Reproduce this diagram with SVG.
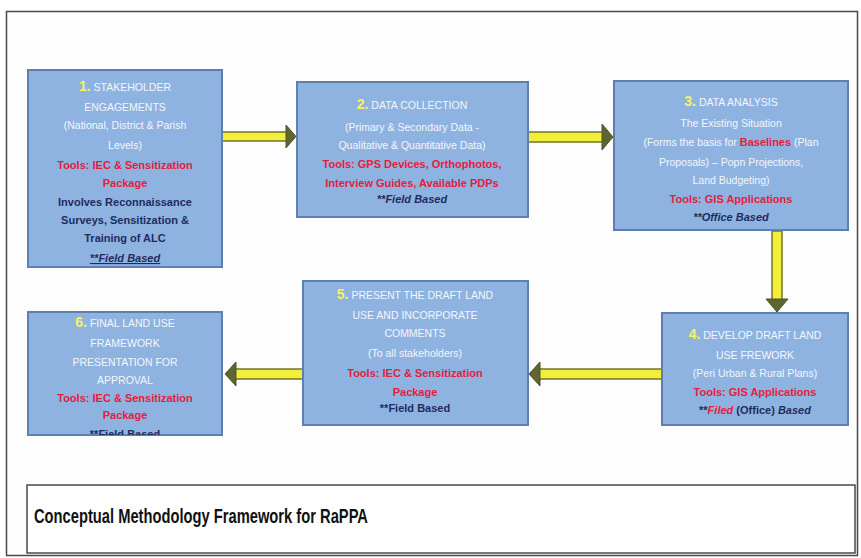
<svg xmlns="http://www.w3.org/2000/svg" width="861" height="558" viewBox="0 0 861 558">
<style>
  .box{fill:#8FB3E0;stroke:#5F7FAF;stroke-width:2}
  text{font-family:"Liberation Sans",Arial,sans-serif;text-anchor:middle}
  .w{fill:#F3F6FB;font-size:10.5px}
  .n{fill:#F6F35A;font-size:14px;font-weight:bold}
  .r{fill:#E3203C;font-size:11px;font-weight:bold}
  .k{fill:#1F2B5E;font-size:11px;font-weight:bold}
  .i{font-style:italic}
  .shaft{fill:#F2EE3A;stroke:#6E7628;stroke-width:1.5}
  .head{fill:#5F6530;stroke:#4E5426;stroke-width:1}
</style>
<defs>
  <clipPath id="c6"><rect x="28" y="312" width="194" height="123"/></clipPath>
</defs>
<rect x="0" y="0" width="861" height="558" fill="#FFFFFF"/>
<rect x="6.5" y="11.5" width="851" height="544" fill="#FDFDFD" stroke="#4A4A4A" stroke-width="1.5"/>

<g id="connectors">
  <g id="a12"><rect class="shaft" x="221" y="132" width="66" height="9"/><polygon class="head" points="286,125 296,136.5 286,148"/></g>
  <g id="a23"><rect class="shaft" x="528" y="132" width="75" height="10"/><polygon class="head" points="602,124 613,137 602,150"/></g>
  <g id="a34"><rect class="shaft" x="772" y="231" width="10" height="69"/><polygon class="head" points="766,299 788,299 777,312"/></g>
  <g id="a45"><rect class="shaft" x="539" y="369" width="123" height="10"/><polygon class="head" points="540,362 529,374 540,386"/></g>
  <g id="a56"><rect class="shaft" x="235" y="369" width="68" height="10"/><polygon class="head" points="236,362 225,374 236,386"/></g>
</g>

<g id="n1">
  <rect class="box" x="28" y="70" width="194" height="197"/>
  <text x="125" y="91"><tspan class="n">1.</tspan><tspan class="w"> STAKEHOLDER</tspan></text>
  <text class="w" x="125" y="111">ENGAGEMENTS</text>
  <text class="w" x="125" y="129">(National, District &amp; Parish</text>
  <text class="w" x="125" y="149">Levels)</text>
  <text class="r" x="125" y="169">Tools: IEC &amp; Sensitization</text>
  <text class="r" x="125" y="187">Package</text>
  <text class="k" x="125" y="206">Involves Reconnaissance</text>
  <text class="k" x="125" y="224">Surveys, Sensitization &amp;</text>
  <text class="k" x="125" y="242">Training of ALC</text>
  <text class="k i" x="125" y="262" text-decoration="underline">**Field Based</text>
</g>

<g id="n2">
  <rect class="box" x="297" y="82" width="231" height="135"/>
  <text x="412" y="109"><tspan class="n">2.</tspan><tspan class="w"> DATA COLLECTION</tspan></text>
  <text class="w" x="412" y="131">(Primary &amp; Secondary Data -</text>
  <text class="w" x="412" y="149">Qualitative &amp; Quantitative Data)</text>
  <text class="r" x="412" y="168">Tools: GPS Devices, Orthophotos,</text>
  <text class="r" x="412" y="187">Interview Guides, Available PDPs</text>
  <text class="k i" x="412" y="203">**Field Based</text>
</g>

<g id="n3">
  <rect class="box" x="614" y="81" width="234" height="149"/>
  <text x="731" y="106"><tspan class="n">3.</tspan><tspan class="w"> DATA ANALYSIS</tspan></text>
  <text class="w" x="731" y="127">The Existing Situation</text>
  <text class="w" x="731" y="146">(Forms the basis for <tspan class="r">Baselines</tspan> (Plan</text>
  <text class="w" x="731" y="166">Proposals) – Popn Projections,</text>
  <text class="w" x="731" y="184">Land Budgeting)</text>
  <text class="r" x="731" y="203">Tools: GIS Applications</text>
  <text class="k i" x="731" y="221">**Office Based</text>
</g>

<g id="n4">
  <rect class="box" x="662" y="313" width="186" height="112"/>
  <text x="755" y="339"><tspan class="n">4.</tspan><tspan class="w"> DEVELOP DRAFT LAND</tspan></text>
  <text class="w" x="755" y="359">USE FREWORK</text>
  <text class="w" x="755" y="377">(Peri Urban &amp; Rural Plans)</text>
  <text class="r" x="755" y="396">Tools: GIS Applications</text>
  <text class="k" x="755" y="414">**<tspan class="r i">Filed</tspan> (Office) <tspan class="i">Based</tspan></text>
</g>

<g id="n5">
  <rect class="box" x="303" y="281" width="225" height="144"/>
  <text x="415" y="299"><tspan class="n">5.</tspan><tspan class="w"> PRESENT THE DRAFT LAND</tspan></text>
  <text class="w" x="415" y="319">USE AND INCORPORATE</text>
  <text class="w" x="415" y="337">COMMENTS</text>
  <text class="w" x="415" y="357">(To all stakeholders)</text>
  <text class="r" x="415" y="377">Tools: IEC &amp; Sensitization</text>
  <text class="r" x="415" y="396">Package</text>
  <text class="k" x="415" y="412">**Field Based</text>
</g>

<g id="n6">
  <rect class="box" x="28" y="312" width="194" height="123"/>
  <text x="125" y="327"><tspan class="n">6.</tspan><tspan class="w"> FINAL LAND USE</tspan></text>
  <text class="w" x="125" y="347">FRAMEWORK</text>
  <text class="w" x="125" y="366">PRESENTATION FOR</text>
  <text class="w" x="125" y="384">APPROVAL</text>
  <text class="r" x="125" y="402">Tools: IEC &amp; Sensitization</text>
  <text class="r" x="125" y="419">Package</text>
  <text class="k" x="125" y="438" clip-path="url(#c6)">**Field Based</text>
</g>

<g id="title">
  <rect x="27" y="485" width="828" height="68" fill="#FFFFFF" stroke="#4A4A4A" stroke-width="1.5"/>
  <text x="34" y="523" style="text-anchor:start;font-size:20px;font-weight:bold;fill:#111" textLength="334" lengthAdjust="spacingAndGlyphs">Conceptual Methodology Framework for RaPPA</text>
</g>
</svg>
